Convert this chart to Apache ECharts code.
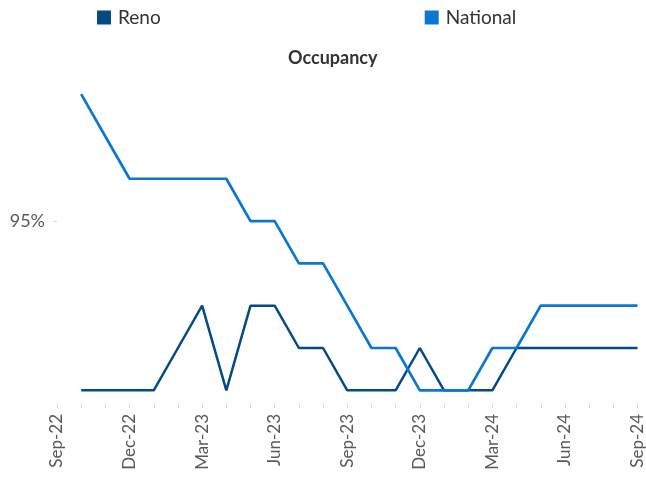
<!DOCTYPE html>
<html>
<head>
<meta charset="utf-8">
<title>Occupancy</title>
<script src="https://cdn.jsdelivr.net/npm/echarts@6/dist/echarts.min.js"></script>
<style>
  html, body { margin: 0; padding: 0; background: #fff; }
  #chart { width: 646px; height: 477px; }
</style>
</head>
<body>
<div id="chart"></div>
<script>
// months shown on the axis (first month has no data)
const months = [
  "Sep-22", "Oct-22", "Nov-22", "Dec-22", "Jan-23", "Feb-23", "Mar-23",
  "Apr-23", "May-23", "Jun-23", "Jul-23", "Aug-23", "Sep-23", "Oct-23",
  "Nov-23", "Dec-23", "Jan-24", "Feb-24", "Mar-24", "Apr-24", "May-24",
  "Jun-24", "Jul-24", "Aug-24", "Sep-24"
];

// occupancy, %
const reno = [
  null, 91, 91, 91, 91, 92, 93, 91, 93, 93, 92, 92, 91,
  91, 91, 92, 91, 91, 91, 92, 92, 92, 92, 92, 92
];
const national = [
  null, 98, 97, 96, 96, 96, 96, 96, 95, 95, 94, 94, 93,
  92, 92, 91, 91, 91, 92, 92, 93, 93, 93, 93, 93
];

const yTicks = [95];

const font = "Lato";
const chart = echarts.init(document.getElementById("chart"));

chart.setOption({
  animation: false,
  color: ["#034A86", "#0A78D2"],
  title: {
    text: "Occupancy",
    left: 283,
    top: 44,
    textStyle: {
      fontFamily: font,
      fontSize: 18,
      fontWeight: "bold",
      color: "#333333"
    }
  },
  legend: {
    left: 92,
    top: 3,
    itemGap: 264,
    itemWidth: 14,
    itemHeight: 14,
    icon: "rect",
    textStyle: {
      fontFamily: font,
      fontSize: 19,
      color: "#333333",
      padding: [0, 0, 0, 2]
    },
    data: ["Reno", "National"]
  },
  grid: {
    left: 57,
    right: 6,
    top: 73,
    bottom: 74
  },
  xAxis: {
    type: "category",
    data: months,
    boundaryGap: false,
    axisLine: { show: false },
    axisTick: {
      show: true,
      interval: 0,
      length: 5,
      lineStyle: { color: "#D9D9D9" }
    },
    axisLabel: {
      interval: 2,
      rotate: 90,
      margin: 11,
      fontFamily: font,
      fontSize: 17,
      color: "#595959"
    },
    splitLine: { show: false }
  },
  yAxis: {
    type: "value",
    min: 90.7,
    max: 98.5,
    axisLine: { show: false },
    axisTick: {
      show: true,
      length: 4,
      customValues: yTicks,
      lineStyle: { color: "#D9D9D9" }
    },
    axisLabel: {
      customValues: yTicks,
      formatter: "{value}%",
      margin: 12,
      fontFamily: font,
      fontSize: 18,
      color: "#595959"
    },
    splitLine: { show: false }
  },
  series: [
    {
      name: "Reno",
      type: "line",
      data: reno,
      showSymbol: false,
      lineStyle: { width: 2.5 }
    },
    {
      name: "National",
      type: "line",
      data: national,
      showSymbol: false,
      lineStyle: { width: 2.7 }
    }
  ]
});
</script>
</body>
</html>
